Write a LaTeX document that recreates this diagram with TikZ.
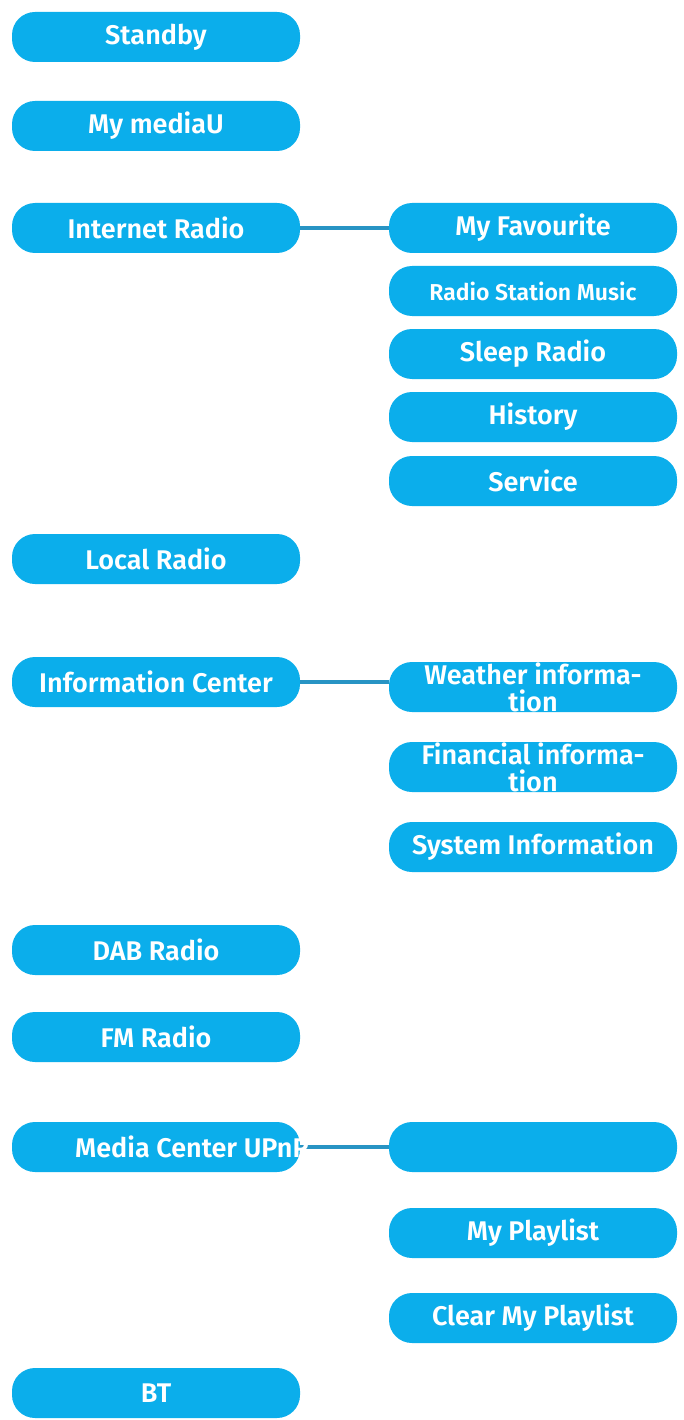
\documentclass[tikz,border=0pt]{standalone}
\usepackage{fontspec}
\setmainfont{Fira Sans}[BoldFont={Fira Sans SemiBold}]
\usepackage{tikz}
\definecolor{menuBlue}{HTML}{0BAEEB}
\definecolor{linkBlue}{HTML}{2894C4}

\begin{document}
\begin{tikzpicture}[x=1pt, y=-1pt, inner sep=0pt]
            \useasboundingbox (0,0) rectangle (684,1420);

            \tikzstyle{menuBox}=[fill=menuBlue, rounded corners=23pt, minimum width=288pt, minimum height=50pt, text=white, font=\bfseries\fontsize{27}{27}\selectfont, align=center];
            \tikzstyle{link}=[draw=linkBlue, line width=3.4pt];

            % main menu
            \node[menuBox] (standby) at (156,37) {Standby};
            \node[menuBox] (mediaU) at (156,126) {My mediaU};
            \node[menuBox] (internet) at (156,228) {Internet Radio};
            \node[menuBox] (local) at (156,559) {Local Radio};
            \node[menuBox] (info) at (156,682) {Information Center};
            \node[menuBox] (dab) at (156,950) {DAB Radio};
            \node[menuBox] (fm) at (156,1037) {FM Radio};
            \node[menuBox] (upnp) at (156,1147) {};
            \node[menuBox] (bt) at (156,1393) {BT};

            % sub menus
            \node[menuBox] (fav) at (533,228) {My Favourite};
            \node[menuBox, font=\bfseries\fontsize{23}{26}\selectfont] (station) at (533,291) {Radio Station Music};
            \node[menuBox] (sleep) at (533,354) {Sleep Radio};
            \node[menuBox] (history) at (533,417) {History};
            \node[menuBox] (service) at (533,481) {Service};
            \node[menuBox] (weather) at (533,687) {Weather informa-\\tion};
            \node[menuBox] (finance) at (533,767) {Financial informa-\\tion};
            \node[menuBox] (system) at (533,847) {System Information};
            \node[menuBox] (blank) at (533,1147) {};
            \node[menuBox] (playlist) at (533,1233) {My Playlist};
            \node[menuBox] (clear) at (533,1318) {Clear My Playlist};

            \draw[link] (internet.east) -- (fav.west);
            \draw[link] (info.east) -- (info.east -| weather.west);
            \draw[link] (upnp.east) -- (blank.west);
            \node[text=white, font=\bfseries\fontsize{27}{27}\selectfont, anchor=west] (upnpName) at (75,1147) {Media Center UPnP};
         \end{tikzpicture}
\end{document}
